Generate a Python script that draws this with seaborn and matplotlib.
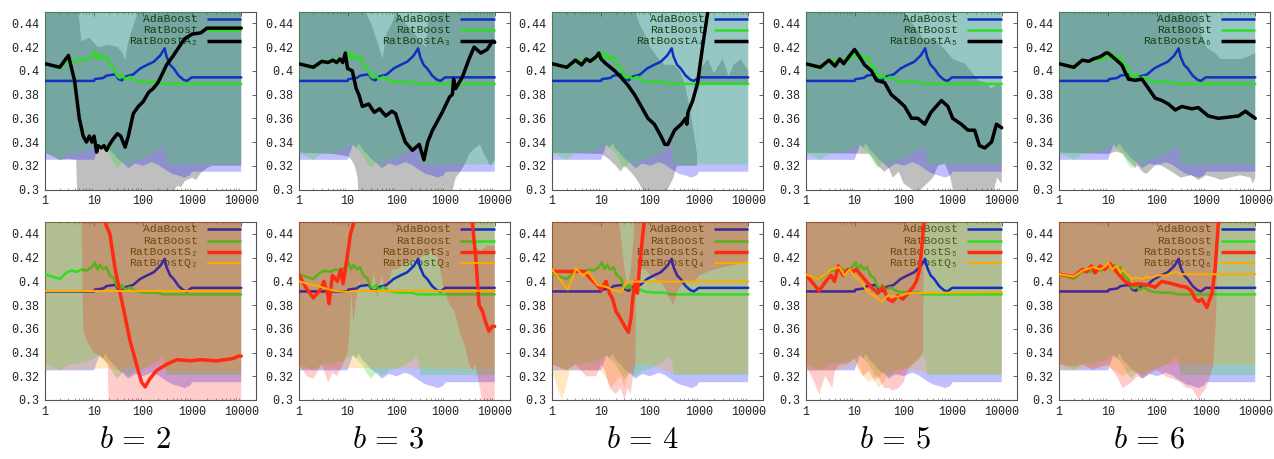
import matplotlib
matplotlib.use("Agg")
import matplotlib.pyplot as plt
import seaborn as sns

# ---------------------------------------------------------------- data
# number of boosting rounds (log axis) vs. test error

# AdaBoost and RatBoost: identical in every panel
ada_x = [1, 10, 10.4, 15.4, 18, 27, 31.6, 37, 43, 63, 87, 120, 164, 224, 275, 300,
         355, 420, 530, 665, 780, 980, 10000]
ada_y = [0.3915, 0.3915, 0.393, 0.394, 0.396, 0.397, 0.393, 0.392, 0.395, 0.397, 0.402,
         0.405, 0.4076, 0.413, 0.419, 0.412, 0.405, 0.402, 0.396, 0.3925, 0.3915, 0.3945, 0.3945]
rat_x = [1, 2, 2.8, 3.5, 4.4, 5.6, 7.1, 9, 10.4, 11.7, 13.2, 15.4, 18, 21, 25, 29, 33,
         37, 43, 54, 69, 87, 120, 190, 260, 10000]
rat_y = [0.406, 0.402, 0.4076, 0.409, 0.408, 0.41, 0.409, 0.412, 0.416, 0.410, 0.414,
         0.41, 0.412, 0.405, 0.403, 0.396, 0.394, 0.397, 0.393, 0.395, 0.392, 0.391,
         0.3905, 0.3905, 0.389, 0.389]

# spread of the runs (lower edges); upper edges lie above the plotted range
ada_lo_x = [1, 10, 11, 13, 15, 17, 20, 25, 30, 40, 50, 70, 100, 150, 200, 300, 400,
            500, 700, 900, 1000, 10000]
ada_lo_y = [0.325, 0.325, 0.33, 0.338, 0.335, 0.339, 0.334, 0.330, 0.326, 0.322, 0.318,
            0.322, 0.320, 0.323, 0.321, 0.316, 0.313, 0.312, 0.310, 0.312, 0.315, 0.315]
rat_lo_x = [1, 2, 3, 5, 8, 10, 12, 15, 20, 25, 30, 40, 50, 70, 100, 150, 200, 250,
            290, 300, 10000]
rat_lo_y = [0.331, 0.325, 0.330, 0.331, 0.333, 0.335, 0.338, 0.335, 0.330, 0.322, 0.318,
            0.324, 0.320, 0.325, 0.326, 0.330, 0.333, 0.337, 0.33, 0.321, 0.321]
top_x = [1, 10000]
top_y = [0.47, 0.47]

# RatBoostA_b
a2_x = [1, 2, 3, 4, 5, 6, 7, 8, 9, 10, 11.3, 12, 14, 16, 18, 20, 25, 30, 35, 43, 50,
        63, 80, 100, 130, 160, 200, 250, 300, 400, 500, 700, 1000, 1500, 2000, 10000]
a2_y = [0.406, 0.403, 0.413, 0.392, 0.36, 0.345, 0.34, 0.345, 0.34, 0.345, 0.3315,
        0.337, 0.335, 0.337, 0.333, 0.337, 0.343, 0.347, 0.345, 0.3357, 0.345, 0.364,
        0.37, 0.374, 0.382, 0.385, 0.39, 0.398, 0.405, 0.412, 0.418, 0.427, 0.431,
        0.432, 0.436, 0.436]
a3_x = [1, 2, 3, 4, 5, 6, 7, 8, 9, 10, 12.5, 15, 17, 20, 27, 35, 45, 60, 80, 95, 112,
        150, 210, 290, 360, 430, 540, 850, 1200, 1370, 1450, 1600, 2200, 3000, 3800,
        5200, 7000, 9000, 10000]
a3_y = [0.406, 0.403, 0.408, 0.407, 0.409, 0.407, 0.41, 0.407, 0.415, 0.402, 0.40,
        0.385, 0.38, 0.37, 0.372, 0.365, 0.368, 0.362, 0.366, 0.364, 0.355, 0.34, 0.333,
        0.338, 0.325, 0.34, 0.35, 0.365, 0.378, 0.38, 0.393, 0.385, 0.395, 0.41, 0.42,
        0.415, 0.418, 0.425, 0.424]
a4_x = [1, 2, 3, 4, 5, 6, 8, 9, 10, 12.6, 19, 25, 35, 48, 66, 90, 122, 166, 200, 230,
        315, 430, 530, 560, 590, 740, 930, 1170, 1500, 2000, 10000]
a4_y = [0.406, 0.403, 0.409, 0.405, 0.41, 0.408, 0.412, 0.415, 0.41, 0.406, 0.40,
        0.395, 0.388, 0.38, 0.37, 0.36, 0.355, 0.345, 0.338, 0.338, 0.35, 0.355, 0.36,
        0.355, 0.365, 0.375, 0.39, 0.42, 0.45, 0.48, 0.5]
a5_x = [1, 2, 3, 4, 5, 6, 8, 10, 13.5, 16, 22, 28, 41, 56, 78, 105, 145, 195, 270,
        360, 590, 800, 1000, 1500, 2050, 2800, 3500, 4500, 6200, 7800, 10000]
a5_y = [0.406, 0.403, 0.409, 0.404, 0.41, 0.406, 0.413, 0.418, 0.41, 0.405, 0.40,
        0.392, 0.39, 0.38, 0.375, 0.37, 0.36, 0.36, 0.355, 0.365, 0.375, 0.37, 0.36,
        0.355, 0.35, 0.35, 0.337, 0.335, 0.34, 0.355, 0.352]
a6_x = [1, 2, 3, 4, 5, 7, 9, 10, 14, 19, 26, 36, 49, 67, 91, 125, 170, 235, 320, 510,
        690, 1100, 1770, 2900, 4600, 6300, 8500, 10000]
a6_y = [0.406, 0.403, 0.409, 0.408, 0.41, 0.412, 0.415, 0.415, 0.41, 0.405, 0.393,
        0.392, 0.393, 0.385, 0.377, 0.375, 0.372, 0.367, 0.37, 0.368, 0.369, 0.362,
        0.36, 0.361, 0.362, 0.366, 0.362, 0.36]

a2_lo_x = [1, 2, 3, 4.3, 4.6, 300, 350, 400, 500, 600, 700, 1000, 1200, 1500, 2000, 2500, 10000]
a2_lo_y = [0.331, 0.325, 0.326, 0.325, 0.29, 0.29, 0.30, 0.298, 0.303, 0.302, 0.307,
           0.31, 0.308, 0.314, 0.318, 0.32, 0.32]
a2_hi_x = [1, 4, 4.8, 5.5, 8, 12, 20, 30, 38, 43, 50, 65, 79, 90, 10000]
a2_hi_y = [0.47, 0.47, 0.45, 0.425, 0.428, 0.42, 0.422, 0.42, 0.415, 0.409, 0.425,
           0.44, 0.45, 0.47, 0.47]
a3_lo_x = [1, 5, 10, 12, 14, 16, 17, 1000, 1200, 1400, 1600, 2000, 2500, 3000, 4000,
           5000, 6000, 7000, 8000, 10000]
a3_lo_y = [0.331, 0.33, 0.328, 0.325, 0.32, 0.31, 0.29, 0.29, 0.295, 0.30, 0.31, 0.315,
           0.322, 0.33, 0.335, 0.338, 0.33, 0.325, 0.32, 0.325]
a3_hi_x = [1, 20, 23, 30, 40, 52, 60, 80, 100, 150, 200, 300, 400, 450, 500, 10000]
a3_hi_y = [0.47, 0.47, 0.45, 0.44, 0.425, 0.41, 0.43, 0.44, 0.45, 0.44, 0.435, 0.425,
           0.42, 0.45, 0.47, 0.47]
a4_lo_x = [1, 10, 12, 15, 20, 25, 30, 40, 50, 60, 70, 90, 120, 200, 300, 350, 900,
           950, 1000, 10000]
a4_lo_y = [0.331, 0.33, 0.328, 0.325, 0.32, 0.315, 0.32, 0.315, 0.31, 0.305, 0.30,
           0.295, 0.29, 0.295, 0.31, 0.32, 0.32, 0.38, 0.388, 0.388]
a4_hi_x = [1, 40, 50, 60, 80, 100, 150, 200, 300, 400, 500, 600, 700, 800, 900, 950,
           1000, 1500, 2000, 3000, 4000, 5000, 7000, 10000]
a4_hi_y = [0.47, 0.47, 0.45, 0.44, 0.43, 0.42, 0.41, 0.405, 0.405, 0.40, 0.39, 0.375,
           0.36, 0.345, 0.33, 0.39, 0.40, 0.41, 0.398, 0.41, 0.395, 0.405, 0.41, 0.40]
a5_lo_x = [1, 20, 25, 30, 40, 50, 60, 80, 100, 150, 200, 300, 400, 500, 700, 900, 1000,
           1500, 3000, 5000, 7000, 8000, 10000]
a5_lo_y = [0.331, 0.33, 0.325, 0.32, 0.315, 0.318, 0.31, 0.315, 0.305, 0.30, 0.298,
           0.305, 0.31, 0.32, 0.322, 0.31, 0.30, 0.295, 0.295, 0.297, 0.30, 0.31, 0.305]
a5_hi_x = [1, 80, 100, 150, 230, 300, 400, 690, 1000, 1780, 3300, 5000, 6000, 8500, 10000]
a5_hi_y = [0.47, 0.47, 0.45, 0.44, 0.429, 0.425, 0.428, 0.418, 0.41, 0.406, 0.392,
           0.39, 0.385, 0.389, 0.387]
a6_lo_x = [1, 10, 15, 20, 25, 30, 35, 40, 50, 60, 80, 100, 150, 200, 300, 500, 700,
           1000, 1500, 2000, 3000, 5000, 8000, 9000, 10000]
a6_lo_y = [0.331, 0.33, 0.332, 0.33, 0.325, 0.322, 0.318, 0.32, 0.315, 0.313, 0.318,
           0.322, 0.318, 0.315, 0.31, 0.312, 0.308, 0.312, 0.31, 0.308, 0.31, 0.312,
           0.31, 0.305, 0.31]
a6_hi_x = [1, 600, 700, 800, 1000, 1500, 2000, 3000, 5000, 7000, 10000]
a6_hi_y = [0.47, 0.47, 0.45, 0.43, 0.42, 0.415, 0.41, 0.41, 0.41, 0.412, 0.415]

# RatBoostS_b
s2_x = [1, 10, 15, 16.5, 21, 27, 34, 43, 54, 63, 79, 93, 110, 138, 190, 300, 490, 910,
        1450, 3160, 6900, 8700, 10000]
s2_y = [0.6, 0.5, 0.46, 0.45, 0.44, 0.41, 0.39, 0.37, 0.35, 0.34, 0.325, 0.315, 0.311,
        0.318, 0.325, 0.33, 0.334, 0.333, 0.334, 0.333, 0.335, 0.337, 0.337]
s3_x = [1, 1.4, 2, 2.8, 3.3, 3.9, 4.2, 4.9, 6.2, 7.3, 8.1, 9.8, 11.5, 13.5, 16, 3000,
        3500, 4100, 4800, 5600, 6600, 7600, 8900, 10000]
s3_y = [0.406, 0.395, 0.386, 0.393, 0.40, 0.39, 0.381, 0.405, 0.40, 0.41, 0.398, 0.42,
        0.44, 0.45, 0.5, 0.5, 0.45, 0.42, 0.38, 0.375, 0.365, 0.358, 0.362, 0.362]
s4_x = [1, 4.6, 6.2, 7.9, 10, 12.6, 14.8, 17.3, 20, 23.7, 27.7, 32.4, 36, 41, 44,
        49.6, 55, 60.4, 71, 76, 90, 10000]
s4_y = [0.4083, 0.4083, 0.402, 0.398, 0.393, 0.40, 0.39, 0.385, 0.375, 0.37, 0.365,
        0.36, 0.357, 0.37, 0.385, 0.40, 0.39, 0.41, 0.44, 0.45, 0.5, 0.5]
s5_x = [1, 1.9, 2.6, 3.3, 3.9, 4.7, 5.8, 7.3, 9.2, 10.8, 13.7, 17.3, 22, 30, 38, 48,
        60, 76, 97, 122, 155, 182, 212, 236, 260, 300, 10000]
s5_y = [0.406, 0.392, 0.40, 0.405, 0.40, 0.413, 0.405, 0.41, 0.408, 0.41, 0.405, 0.40,
        0.395, 0.39, 0.395, 0.385, 0.383, 0.388, 0.385, 0.39, 0.395, 0.40, 0.41, 0.43,
        0.45, 0.5, 0.5]
s6_x = [1, 2, 3, 3.6, 4.6, 5.4, 6.9, 8.6, 10.9, 13.7, 17.3, 22, 30, 41, 66, 91, 125,
        200, 300, 400, 500, 600, 700, 815, 1030, 1310, 1520, 1780, 2000, 10000]
s6_y = [0.406, 0.404, 0.41, 0.408, 0.413, 0.407, 0.413, 0.41, 0.415, 0.41, 0.405,
        0.40, 0.397, 0.398, 0.397, 0.395, 0.40, 0.398, 0.396, 0.395, 0.392, 0.385,
        0.383, 0.385, 0.378, 0.39, 0.41, 0.45, 0.5, 0.5]

s2_lo_x = [1, 5.5, 6, 7, 10, 15, 19, 20, 10000]
s2_lo_y = [0.47, 0.47, 0.36, 0.35, 0.34, 0.335, 0.33, 0.29, 0.29]
s3_lo_x = [1, 1.5, 2, 3, 4, 5, 6, 7, 8, 10, 11, 12, 13, 15, 17, 20, 25, 30, 35, 40, 50,
           60, 70, 80, 100, 150, 200, 300, 500, 700, 900, 1000, 1200, 1500, 2000, 2500,
           3000, 3500, 4000, 5000, 6000, 10000]
s3_lo_y = [0.33, 0.32, 0.318, 0.33, 0.315, 0.323, 0.32, 0.325, 0.33, 0.34, 0.36, 0.39,
           0.365, 0.385, 0.40, 0.395, 0.40, 0.39, 0.41, 0.385, 0.405, 0.39, 0.40, 0.41,
           0.41, 0.415, 0.418, 0.42, 0.425, 0.42, 0.395, 0.39, 0.38, 0.375, 0.355,
           0.345, 0.33, 0.325, 0.33, 0.31, 0.29, 0.29]
s3_hi_x = [1, 3000, 3500, 4000, 5000, 7000, 10000]
s3_hi_y = [0.47, 0.47, 0.45, 0.43, 0.425, 0.43, 0.43]
s4_lo_x = [1, 2, 3, 5, 8, 10, 12, 15, 20, 25, 30, 35, 40, 45, 50, 52, 60, 80, 100, 150,
           200, 250, 300, 350, 400, 600, 800, 1000, 2000, 4000, 7000, 10000]
s4_lo_y = [0.33, 0.325, 0.33, 0.32, 0.32, 0.33, 0.325, 0.31, 0.305, 0.31, 0.30, 0.31,
           0.305, 0.32, 0.33, 0.40, 0.41, 0.41, 0.405, 0.40, 0.395, 0.385, 0.38, 0.39,
           0.395, 0.40, 0.40, 0.405, 0.41, 0.413, 0.415, 0.418]
s4_hi_x = [1, 20, 25, 30, 35, 40, 45, 50, 10000]
s4_hi_y = [0.47, 0.47, 0.44, 0.41, 0.395, 0.41, 0.43, 0.47, 0.47]
s5_lo_x = [1, 1.5, 1.9, 2.5, 3, 3.5, 4, 5, 7, 10, 15, 20, 25, 30, 40, 50, 60, 80, 100,
           120, 150, 200, 250, 260]
s5_lo_y = [0.33, 0.315, 0.305, 0.32, 0.315, 0.31, 0.325, 0.33, 0.33, 0.335, 0.32,
           0.325, 0.315, 0.32, 0.31, 0.31, 0.308, 0.31, 0.315, 0.325, 0.33, 0.335,
           0.34, 0.47]
s5_hi_x = [1, 260]
s5_hi_y = [0.47, 0.47]
s6_lo_x = [1, 2, 3, 5, 7, 10, 15, 20, 30, 40, 50, 70, 100, 150, 200, 300, 400, 500,
           600, 700, 800, 1000, 1200, 1400, 1600, 1700]
s6_lo_y = [0.33, 0.328, 0.33, 0.325, 0.328, 0.33, 0.32, 0.31, 0.315, 0.32, 0.318,
           0.322, 0.325, 0.32, 0.318, 0.315, 0.31, 0.31, 0.305, 0.30, 0.305, 0.31,
           0.32, 0.33, 0.37, 0.47]
s6_hi_x = [1, 1700]
s6_hi_y = [0.47, 0.47]

# RatBoostQ_b
q2_x = [1, 10000]
q2_y = [0.3915, 0.3915]
q3_x = [1, 2, 3, 5.3, 8, 10, 15, 10000]
q3_y = [0.40, 0.397, 0.395, 0.392, 0.3915, 0.391, 0.392, 0.392]
q4_x = [1, 2.1, 3.1, 4.2, 5.4, 8.5, 13.6, 17, 26, 32, 41, 10000]
q4_y = [0.41, 0.393, 0.411, 0.405, 0.408, 0.397, 0.395, 0.393, 0.391, 0.399, 0.3998, 0.3998]
q5_x = [1, 1.9, 3.3, 4.9, 6.2, 7.9, 10, 13.7, 16, 20, 25, 35, 48, 76, 122, 10000]
q5_y = [0.406, 0.402, 0.41, 0.412, 0.405, 0.41, 0.404, 0.40, 0.395, 0.39, 0.388,
        0.383, 0.388, 0.387, 0.39, 0.391]
q6_x = [1, 2, 3, 5, 7, 9, 10, 12, 15, 18, 20, 25, 30, 40, 50, 60, 80, 100, 150, 200,
        250, 300, 500, 10000]
q6_y = [0.406, 0.404, 0.409, 0.412, 0.41, 0.413, 0.416, 0.41, 0.413, 0.407, 0.41,
        0.405, 0.402, 0.403, 0.402, 0.404, 0.403, 0.405, 0.405, 0.407, 0.408, 0.406,
        0.406, 0.406]

q2_lo_x = [1, 10, 20, 30, 50, 100, 200, 300, 10000]
q2_lo_y = [0.325, 0.326, 0.327, 0.325, 0.328, 0.326, 0.33, 0.324, 0.324]
q3_lo_x = [1, 10, 10000]
q3_lo_y = [0.326, 0.327, 0.326]
q4_lo_x = [1, 1.3, 1.6, 1.9, 2.3, 10, 13, 16, 20, 25, 30, 35, 45, 100, 300, 10000]
q4_lo_y = [0.325, 0.31, 0.30, 0.31, 0.325, 0.325, 0.318, 0.31, 0.315, 0.32, 0.31, 0.32,
           0.33, 0.33, 0.322, 0.322]
q5_lo_x = [1, 5, 10, 15, 20, 25, 30, 40, 50, 70, 100, 200, 300, 10000]
q5_lo_y = [0.325, 0.325, 0.33, 0.32, 0.315, 0.32, 0.31, 0.315, 0.325, 0.32, 0.325,
           0.325, 0.322, 0.322]
q6_lo_x = [1, 10, 20, 30, 50, 100, 200, 10000]
q6_lo_y = [0.325, 0.328, 0.32, 0.325, 0.322, 0.328, 0.33, 0.33]

b_values = [2, 3, 4, 5, 6]
b_subscripts = ["\u2082", "\u2083", "\u2084", "\u2085", "\u2086"]
y_ticks = [0.3, 0.32, 0.34, 0.36, 0.38, 0.4, 0.42, 0.44]
x_ticks = [1, 10, 100, 1000, 10000]

# ---------------------------------------------------------------- style
sns.set_theme(style="white")
plt.rcParams["font.family"] = ["Liberation Mono", "DejaVu Sans Mono", "DejaVu Sans"]

C_ADA, F_ADA, AL_ADA = "#1030c0", "#0000ff", 0.25
C_RAT, F_RAT, AL_RAT = "#30dd20", "#3cdc3c", 0.30
C_A, F_A, AL_A = "#000000", "#000000", 0.25
C_S, F_S, AL_S = "#ff2a10", "#ff0000", 0.20
C_Q, F_Q, AL_Q = "#ffaa00", "#ffa500", 0.25

fig = plt.figure(figsize=(12.74, 4.59), dpi=100)
W, H = 1274.0, 459.0
lefts = [45, 298.5, 552, 805.5, 1059]


def make_axes(left_px, top_px, bottom_px):
    ax = fig.add_axes([left_px / W, (H - bottom_px) / H, 211 / W, (bottom_px - top_px) / H])
    ax.set_xscale("log")
    ax.set_xlim(1, 20000)
    ax.set_ylim(0.3, 0.45)
    ax.set_yticks(y_ticks)
    ax.set_yticklabels([f"{v:g}" for v in y_ticks])
    ax.set_xticks(x_ticks)
    ax.set_xticklabels([str(v) for v in x_ticks])
    ax.tick_params(axis="both", which="major", direction="in", length=3, width=0.5,
                   labelsize=8.5, pad=4, top=True, right=True, colors="#222222")
    ax.tick_params(axis="x", which="minor", direction="in", length=1.5, width=0.4,
                   top=True, bottom=True, colors="#555555")
    for sp in ax.spines.values():
        sp.set_color("#555555")
        sp.set_linewidth(0.8)
    ax.set_facecolor("white")
    return ax


def band(ax, lo_x, lo_y, hi_x, hi_y, color, alpha, z):
    xs = list(lo_x) + list(hi_x)[::-1]
    ys = list(lo_y) + list(hi_y)[::-1]
    ax.fill(xs, ys, color=color, alpha=alpha, lw=0, zorder=z)


def key_text(ax, label, slot, z):
    # key labels sit underneath some of the translucent bands
    ky = 0.4440 - 0.0096 * slot
    ax.text(1300, ky, label, ha="right", va="center", fontsize=8.2, color="black",
            zorder=z)


def series(ax, x, y, color, lw, z, slot):
    sns.lineplot(x=x, y=y, ax=ax, color=color, linewidth=lw, zorder=z, legend=False)
    ky = 0.4440 - 0.0096 * slot
    ax.plot([2000, 10000], [ky, ky], color=color, lw=lw, zorder=z,
            solid_capstyle="butt")


top_sets = [
    (a2_x, a2_y, a2_lo_x, a2_lo_y, a2_hi_x, a2_hi_y),
    (a3_x, a3_y, a3_lo_x, a3_lo_y, a3_hi_x, a3_hi_y),
    (a4_x, a4_y, a4_lo_x, a4_lo_y, a4_hi_x, a4_hi_y),
    (a5_x, a5_y, a5_lo_x, a5_lo_y, a5_hi_x, a5_hi_y),
    (a6_x, a6_y, a6_lo_x, a6_lo_y, a6_hi_x, a6_hi_y),
]
bottom_sets = [
    (s2_x, s2_y, s2_lo_x, s2_lo_y, top_x, top_y, q2_x, q2_y, q2_lo_x, q2_lo_y),
    (s3_x, s3_y, s3_lo_x, s3_lo_y, s3_hi_x, s3_hi_y, q3_x, q3_y, q3_lo_x, q3_lo_y),
    (s4_x, s4_y, s4_lo_x, s4_lo_y, s4_hi_x, s4_hi_y, q4_x, q4_y, q4_lo_x, q4_lo_y),
    (s5_x, s5_y, s5_lo_x, s5_lo_y, s5_hi_x, s5_hi_y, q5_x, q5_y, q5_lo_x, q5_lo_y),
    (s6_x, s6_y, s6_lo_x, s6_lo_y, s6_hi_x, s6_hi_y, q6_x, q6_y, q6_lo_x, q6_lo_y),
]

for i, b in enumerate(b_values):
    sub = b_subscripts[i]

    # upper row: AdaBoost, RatBoost, RatBoostA_b
    ax = make_axes(lefts[i], 11.5, 189.5)
    ax_x, ax_y, lo_x, lo_y, hi_x, hi_y = top_sets[i]
    band(ax, lo_x, lo_y, hi_x, hi_y, F_A, AL_A, 1)
    band(ax, ada_lo_x, ada_lo_y, top_x, top_y, F_ADA, AL_ADA, 2)
    for slot, lab in enumerate(["AdaBoost", "RatBoost", "RatBoostA" + sub]):
        key_text(ax, lab, slot, 2.5)
    band(ax, rat_lo_x, rat_lo_y, top_x, top_y, F_RAT, AL_RAT, 3)
    series(ax, ada_x, ada_y, C_ADA, 1.8, 5, 0)
    series(ax, rat_x, rat_y, C_RAT, 1.8, 6, 1)
    series(ax, ax_x, ax_y, C_A, 2.5, 7, 2)
    ax.set_xlabel("")
    ax.set_ylabel("")

    # lower row: AdaBoost, RatBoost, RatBoostS_b, RatBoostQ_b
    ax = make_axes(lefts[i], 222, 400)
    (sx, sy, slx, sly, shx, shy, qx, qy, qlx, qly) = bottom_sets[i]
    band(ax, ada_lo_x, ada_lo_y, top_x, top_y, F_ADA, AL_ADA, 1)
    for slot, lab in enumerate(["AdaBoost", "RatBoost", "RatBoostS" + sub,
                                "RatBoostQ" + sub]):
        key_text(ax, lab, slot, 1.5)
    band(ax, rat_lo_x, rat_lo_y, top_x, top_y, F_RAT, AL_RAT, 2)
    band(ax, qlx, qly, top_x, top_y, F_Q, AL_Q, 3)
    series(ax, ada_x, ada_y, C_ADA, 1.8, 4, 0)
    series(ax, rat_x, rat_y, C_RAT, 1.8, 5, 1)
    band(ax, slx, sly, shx, shy, F_S, AL_S, 6)
    series(ax, sx, sy, C_S, 2.5, 7, 2)
    series(ax, qx, qy, C_Q, 1.5, 8, 3)
    ax.set_xlabel("")
    ax.set_ylabel("")

    fig.text((lefts[i] + 90) / W, (H - 440) / H, rf"$b\,=\,{b}$", ha="center",
             va="center", fontsize=22, math_fontfamily="cm", color="black")

fig.savefig("out.png", dpi=100)
